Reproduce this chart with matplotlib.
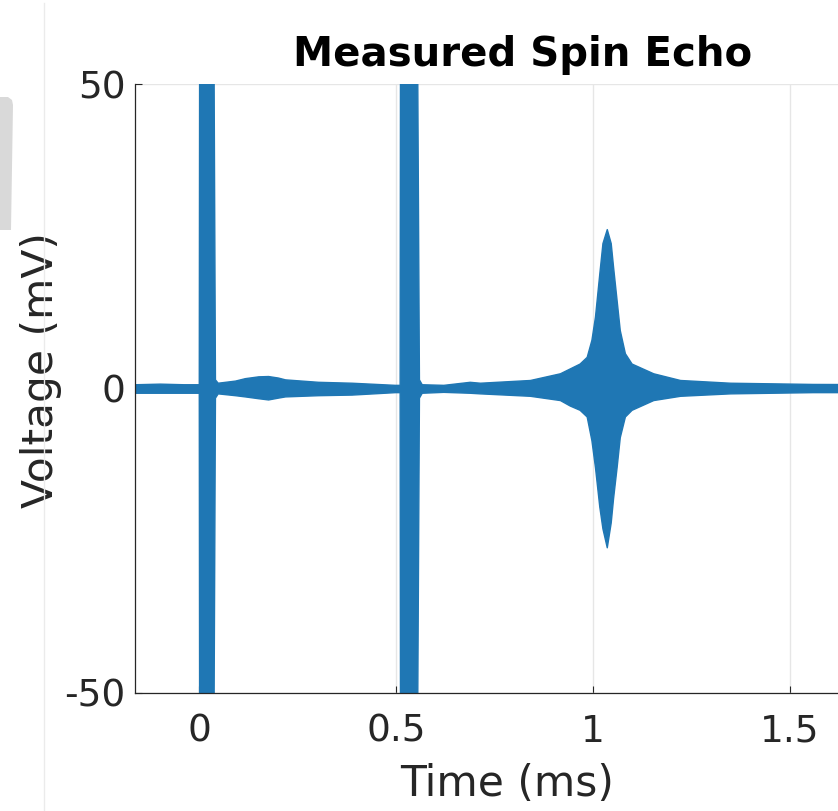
import matplotlib
matplotlib.use("Agg")
from matplotlib import pyplot as plt
from matplotlib.lines import Line2D
from matplotlib.patches import Polygon

# DATA
# Envelope of the digitised receiver trace (time in ms, voltage in mV).
# The RF pulses saturate the scope so they are given as +/-60 mV and
# clipped by the axis limits.
TIME_MS = [
    -0.163, -0.10, -0.04, -0.001,
    0.000, 0.036,
    0.040, 0.047, 0.091, 0.116, 0.150, 0.175, 0.200, 0.218, 0.302, 0.387,
    0.497, 0.509,
    0.510, 0.553,
    0.558, 0.565, 0.620, 0.687, 0.713, 0.840, 0.916, 0.941, 0.966, 0.984,
    0.996, 1.005, 1.016, 1.024, 1.035, 1.045, 1.051, 1.060, 1.068, 1.081,
    1.098, 1.153, 1.221, 1.348, 1.558, 1.805,
]
UPPER_MV = [
    0.7, 0.8, 0.7, 0.7,
    60, 60,
    1.5, 0.95, 1.3, 1.7, 2.0, 2.05, 1.8, 1.5, 1.1, 0.95,
    0.6, 0.6,
    60, 60,
    1.5, 0.7, 0.6, 1.1, 0.95, 1.4, 2.5, 3.3, 4.1, 5.2,
    8.0, 11.8, 18.9, 23.9, 26.2, 23.9, 20.0, 14.5, 9.6, 5.8,
    4.1, 2.5, 1.4, 0.95, 0.75, 0.7,
]
LOWER_MV = [
    -0.7, -0.7, -0.7, -0.7,
    -60, -60,
    -1.5, -0.8, -1.1, -1.3, -1.6, -1.8, -1.5, -1.3, -1.1, -1.0,
    -0.6, -0.6,
    -60, -60,
    -1.5, -0.7, -0.55, -0.7, -0.8, -1.2, -1.9, -2.8, -3.5, -4.6,
    -8.5, -12.9, -19.4, -23.0, -26.1, -22.0, -18.0, -12.9, -8.0, -4.6,
    -3.5, -1.9, -1.2, -0.8, -0.6, -0.6,
]

X_TICKS = [0, 0.5, 1, 1.5]
X_TICK_LABELS = ["0", "0.5", "1", "1.5"]
Y_TICKS = [-50, 0, 50]
Y_TICK_LABELS = ["-50", "0", "50"]

# PARAMETERS
FIG_W, FIG_H, DPI = 838, 811, 100
TRACE_COLOR = "#1f77b4"
AXIS_COLOR = "#262626"
GRID_COLOR = "#e6e6e6"


def px_to_fig(x, y):
    # pixel position measured from the top-left corner -> figure fraction
    return x / FIG_W, 1 - y / FIG_H


def main():
    plt.rcParams["font.family"] = ["DejaVu Sans"]

    fig = plt.figure(figsize=(FIG_W / DPI, FIG_H / DPI), dpi=DPI)

    left, top = px_to_fig(135, 84.3)
    right, bottom = px_to_fig(910, 692.7)
    ax = fig.add_axes([left, bottom, right - left, top - bottom])

    ax.fill_between(TIME_MS, LOWER_MV, UPPER_MV, color=TRACE_COLOR,
                    edgecolor=TRACE_COLOR, linewidth=1.0, zorder=3)

    ax.set_xlim(-0.163, 1.805)
    ax.set_ylim(-50, 50)

    ax.set_xticks(X_TICKS)
    ax.set_xticklabels(X_TICK_LABELS)
    ax.set_yticks(Y_TICKS)
    ax.set_yticklabels(Y_TICK_LABELS)

    ax.tick_params(direction="in", length=5, width=0.8, colors=AXIS_COLOR,
                   labelsize=27, labelcolor=AXIS_COLOR)
    ax.tick_params(axis="x", pad=15)
    ax.tick_params(axis="y", pad=7)

    ax.grid(True, color=GRID_COLOR, linewidth=1.0, zorder=0)
    ax.set_axisbelow(True)

    for side in ["top", "right"]:
        ax.spines[side].set_visible(False)
    for side in ["left", "bottom"]:
        ax.spines[side].set_color(AXIS_COLOR)
        ax.spines[side].set_linewidth(0.9)
        ax.spines[side].set_zorder(4)

    ax.set_xlabel("Time (ms)", fontsize=30.5, color=AXIS_COLOR)
    ax.xaxis.set_label_coords(0.48, -0.116)
    ax.xaxis.label.set_verticalalignment("top")
    ax.set_ylabel("Voltage (mV)", fontsize=30.5, color=AXIS_COLOR)
    ax.yaxis.set_label_coords(-0.094, 0.530)
    ax.set_title("Measured Spin Echo", fontsize=29, fontweight="bold",
                 pad=13)

    # neighbouring panel edge on the far left
    x0, y0 = px_to_fig(43.5, 3)
    x1, y1 = px_to_fig(43.5, 811)
    fig.add_artist(Line2D([x0, x1], [y0, y1], transform=fig.transFigure,
                          color="#ebebeb", linewidth=1.0))
    outline = [(0, 97), (8, 97), (12, 100), (13, 105), (11, 230), (0, 230)]
    fig.add_artist(Polygon([px_to_fig(x, y) for x, y in outline],
                           closed=True, transform=fig.transFigure,
                           facecolor="#d9d9d9", edgecolor="none"))

    fig.savefig("out.png", dpi=DPI)


if __name__ == "__main__":
    main()
